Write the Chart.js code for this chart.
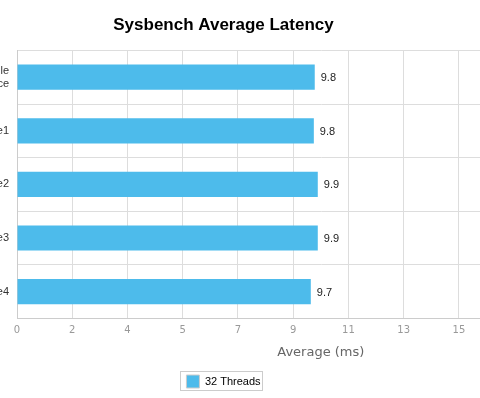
<!DOCTYPE html>
<html>
<head>
<meta charset="utf-8">
<script src="https://cdn.jsdelivr.net/npm/chart.js@4"></script>
<style>
    html, body { margin: 0; padding: 0; background: #fff; overflow: hidden; }
    #wrap { position: absolute; left: -196px; top: 0; width: 833px; height: 398px; }
</style>
</head>
<body>
<div id="wrap"><canvas id="chart"></canvas></div>
<script>
// Chart data
const categories = [['Single', 'Instance'], 'Node1', 'Node2', 'Node3', 'Node4'];
const seriesName = '32 Threads';
const latency = [9.81, 9.78, 9.91, 9.91, 9.68];
const tickLabels = ['0', '2', '4', '5', '7', '9', '11', '13', '15', '16', '18', '20'];

const barColor = '#4dbbeb';

// Value labels at the end of each bar
const valueLabels = {
    id: 'valueLabels',
    afterDatasetsDraw(chart) {
        const ctx = chart.ctx;
        const meta = chart.getDatasetMeta(0);
        ctx.save();
        ctx.font = '11px "Liberation Sans", Arial, sans-serif';
        ctx.fillStyle = '#222';
        ctx.textAlign = 'left';
        ctx.textBaseline = 'middle';
        meta.data.forEach((bar, i) => {
            ctx.fillText(latency[i].toFixed(1), bar.x + 6, bar.y + 1);
        });
        ctx.restore();
    }
};

// Border around the legend item
const legendBorder = {
    id: 'legendBorder',
    afterDraw(chart) {
        const boxes = chart.legend && chart.legend.legendHitBoxes;
        if (!boxes || !boxes.length) return;
        const hb = boxes[0];
        const ctx = chart.ctx;
        ctx.save();
        ctx.strokeStyle = '#ccc';
        ctx.lineWidth = 1;
        ctx.strokeRect(Math.round(hb.left) - 5.5, Math.round(hb.top) - 3.5, Math.round(hb.width) + 8, Math.round(hb.height) + 6);
        ctx.restore();
    }
};

new Chart(document.getElementById('chart'), {
    type: 'bar',
    data: {
        labels: categories,
        datasets: [{
            label: seriesName,
            data: latency,
            backgroundColor: barColor,
            borderColor: '#ffffff',
            borderWidth: 0,
            barPercentage: 0.47,
            categoryPercentage: 1.0
        }]
    },
    options: {
        indexAxis: 'y',
        responsive: true,
        maintainAspectRatio: false,
        animation: false,
        layout: { padding: { top: 0, right: 4, bottom: 0, left: 10 } },
        scales: {
            x: {
                min: 0,
                max: 20.02,
                ticks: {
                    stepSize: 1.82,
                    color: '#999',
                    font: { family: 'DejaVu Sans', size: 10 },
                    padding: 6,
                    callback: (value, index) => tickLabels[index]
                },
                grid: { color: '#ddd', drawTicks: false },
                border: { color: '#ccc' },
                title: {
                    display: true,
                    text: 'Average (ms)',
                    color: '#666',
                    font: { family: 'DejaVu Sans', size: 13 },
                    padding: { top: 2, bottom: 11 }
                }
            },
            y: {
                afterFit: (scale) => { scale.width = 203; },
                ticks: {
                    color: '#333',
                    font: { family: 'Liberation Sans', size: 11 },
                    padding: 8
                },
                grid: { color: '#ddd', drawTicks: false },
                border: { color: '#ccc' }
            }
        },
        plugins: {
            title: {
                display: true,
                text: 'Sysbench Average Latency',
                color: '#000',
                font: { family: 'Liberation Sans', size: 17, weight: 'bold' },
                padding: { top: 15, bottom: 15 }
            },
            legend: {
                position: 'bottom',
                labels: {
                    boxWidth: 13,
                    boxHeight: 13,
                    color: '#333',
                    font: { family: 'Liberation Sans', size: 11 },
                    padding: 4,
                    generateLabels: (chart) => [{
                        text: seriesName,
                        fillStyle: barColor,
                        strokeStyle: '#ccc',
                        lineWidth: 1,
                        datasetIndex: 0
                    }]
                }
            },
            tooltip: { enabled: false }
        }
    },
    plugins: [valueLabels, legendBorder]
});
</script>
</body>
</html>
